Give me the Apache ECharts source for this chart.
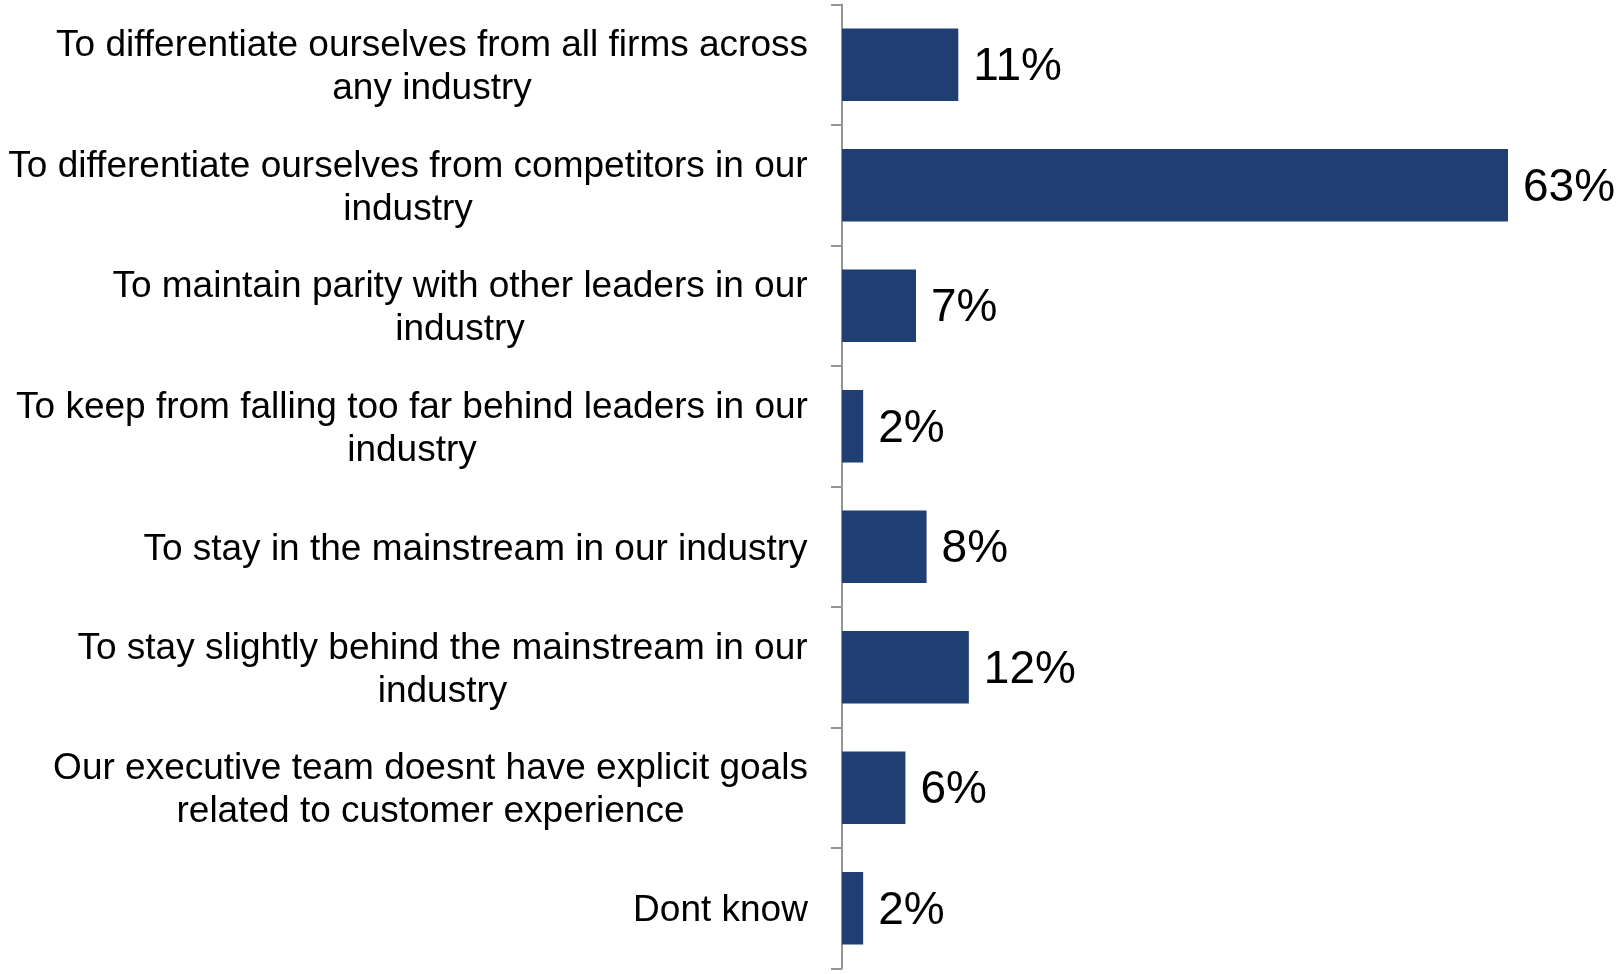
<!DOCTYPE html>
<html>
<head>
<meta charset="utf-8">
<script src="https://cdn.jsdelivr.net/npm/echarts@6/dist/echarts.min.js"></script>
<style>
  html, body { margin: 0; padding: 0; background: #fff; }
  #chart { width: 1620px; height: 974px; }
</style>
</head>
<body>
<div id="chart"></div>
<script>
// Survey answers, top to bottom
const categories = [
  'To differentiate ourselves from all firms across\nany industry',
  'To differentiate ourselves from competitors in our\nindustry',
  'To maintain parity with other leaders in our\nindustry',
  'To keep from falling too far behind leaders in our\nindustry',
  'To stay in the mainstream in our industry',
  'To stay slightly behind the mainstream in our\nindustry',
  'Our executive team doesnt have explicit goals\nrelated to customer experience',
  'Dont know'
];
// Share of respondents, percent
const shares = [11, 63, 7, 2, 8, 12, 6, 2];

const FONT = '"Liberation Sans", Arial, sans-serif';
const CAT_SIZE = 37;

// Each category label is right-anchored at the axis, but its lines are
// centred on one another: give every label a rich box as wide as its widest line.
const ctx = document.createElement('canvas').getContext('2d');
ctx.font = CAT_SIZE + 'px ' + FONT;
const rich = {};
categories.forEach(function (c, i) {
  const w = Math.max.apply(null, c.split('\n').map(function (s) { return ctx.measureText(s).width; }));
  rich['l' + i] = {
    width: Math.ceil(w) + 2,
    align: 'center',
    fontSize: CAT_SIZE,
    fontFamily: FONT,
    lineHeight: 43,
    color: '#000000'
  };
});

const chart = echarts.init(document.getElementById('chart'), null, { renderer: 'canvas' });

chart.setOption({
  backgroundColor: '#ffffff',
  animation: false,
  grid: { left: 842, top: 4.5, width: 740, height: 964, containLabel: false },
  xAxis: {
    type: 'value',
    min: 0,
    max: 70,
    show: false
  },
  yAxis: {
    type: 'category',
    inverse: true,
    data: categories,
    axisLine: { show: true, lineStyle: { color: '#959595', width: 2 } },
    axisTick: { show: true, length: 11, inside: false, lineStyle: { color: '#959595', width: 2 } },
    axisLabel: {
      margin: 33,
      color: '#000000',
      fontFamily: FONT,
      fontSize: CAT_SIZE,
      lineHeight: 43,
      align: 'right',
      padding: [6, 0, 0, 0],
      rich: rich,
      formatter: function (v, i) {
        return v.split('\n').map(function (s) { return '{l' + i + '|' + s + '}'; }).join('\n');
      }
    },
    splitLine: { show: false }
  },
  series: [{
    type: 'bar',
    data: shares,
    barWidth: '60%',
    itemStyle: { color: '#1f3e72' },
    label: {
      show: true,
      position: 'right',
      distance: 15,
      offset: [0, 3],
      color: '#000000',
      fontFamily: FONT,
      fontSize: 46,
      formatter: '{c}%'
    }
  }]
});
</script>
</body>
</html>
